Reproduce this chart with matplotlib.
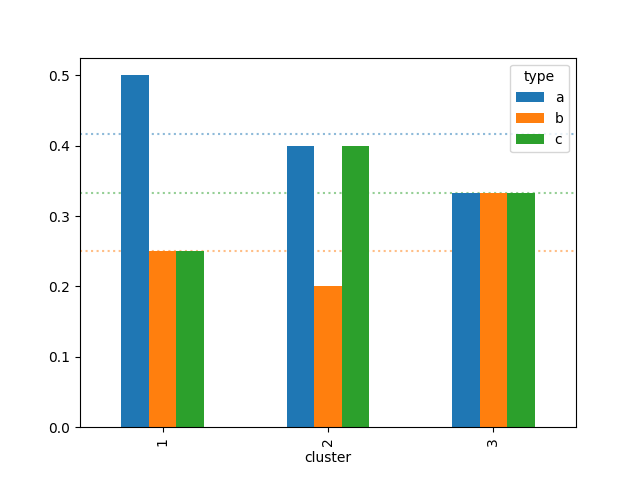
import matplotlib
matplotlib.use("Agg")
import matplotlib.pyplot as plt
import pandas as pd

# shares per cluster for each type
clusters = [1, 2, 3]
share_a = [0.5, 0.4, 1 / 3]
share_b = [0.25, 0.2, 1 / 3]
share_c = [0.25, 0.4, 1 / 3]

# overall mean share of each type (dotted reference lines)
overall = {"a": 5 / 12, "b": 0.25, "c": 1 / 3}

df = pd.DataFrame({"a": share_a, "b": share_b, "c": share_c},
                  index=pd.Index(clusters, name="cluster"))
df.columns.name = "type"

fig, ax = plt.subplots(figsize=(6.4, 4.8), dpi=100)
df.plot.bar(ax=ax)

colors = {"a": "tab:blue", "b": "tab:orange", "c": "tab:green"}
for key, val in overall.items():
    ax.axhline(val, color=colors[key], linestyle=":", alpha=0.5, zorder=0)

fig.savefig("out.png")
